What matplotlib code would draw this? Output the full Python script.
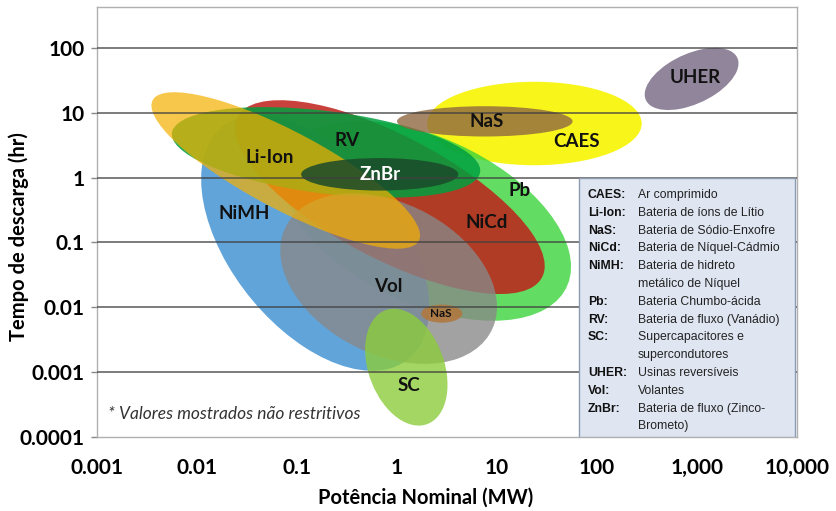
import numpy as np
import matplotlib
matplotlib.use('Agg')
import matplotlib.pyplot as plt
from matplotlib.patches import Ellipse, Rectangle
from matplotlib.transforms import ScaledTranslation

# technologies, drawn bottom -> top
techs = ['CAES', 'UHER', 'Pb', 'NiMH', 'NiCd', 'RV', 'Vol', 'Li-Ion', 'ZnBr', 'NaS', 'SC', 'NaS']
# rated power range (MW)
power_min = [2.0, 300, 0.07, 0.011, 0.024, 0.0056, 0.068, 0.0035, 0.11, 1.0, 0.48, 1.75]
power_max = [280, 2600, 55, 2.1, 30, 6.8, 10, 1.7, 4.1, 57, 3.2, 4.5]
# discharge time range (hr)
time_min = [1.55, 11, 0.0062, 0.00105, 0.016, 0.49, 0.00134, 0.08, 0.63, 4.3, 0.00015, 0.0058]
time_max = [30, 100, 7.5, 9.1, 15.6, 12.2, 0.57, 20.7, 2.0, 12.6, 0.0095, 0.011]
# tilt of each region (correlation between log power and log time)
tilt = [0.0, 0.5, -0.46, -0.5, -0.71, -0.4, -0.33, -0.83, 0.0, 0.0, -0.3, 0.0]

x_tick_labels = ['0.001', '0.01', '0.1', '1', '10', '100', '1,000', '10,000']
y_tick_labels = ['0.0001', '0.001', '0.01', '0.1', '1', '10', '100']

legend_abbr = ['CAES:', 'Li-Ion:', 'NaS:', 'NiCd:', 'NiMH:', 'Pb:', 'RV:', 'SC:', 'UHER:', 'Vol:', 'ZnBr:']
legend_desc = ['Ar comprimido', 'Bateria de íons de Lítio', 'Bateria de Sódio-Enxofre',
               'Bateria de Níquel-Cádmio', 'Bateria de hidreto\nmetálico de Níquel',
               'Bateria Chumbo-ácida', 'Bateria de fluxo (Vanádio)',
               'Supercapacitores e\nsupercondutores', 'Usinas reversíveis', 'Volantes',
               'Bateria de fluxo (Zinco-\nBrometo)']

# styles
face = ['#f7f400', '#8b7f96', '#3cd43c', '#4f9ad6', '#c0201a', '#00a040', '#888888',
        '#f5b000', '#1a4a2a', '#8f6840', '#8ccc3c', '#b07840']
alpha = [0.9, 0.95, 0.8, 0.9, 0.85, 0.85, 0.78, 0.7, 0.85, 0.8, 0.8, 0.9]
label_x = [1.80, 2.98, 1.23, -1.53, 0.90, -0.50, -0.09, -1.27, -0.17, 0.90, 0.12, 0.44]
label_y = [0.56, 1.55, -0.20, -0.55, -0.69, 0.575, -1.68, 0.31, 0.05, 0.87, -3.21, -2.10]
label_size = [13.5] * 11 + [8.5]
label_color = ['#111111'] * 8 + ['white'] + ['#111111'] * 3

main_font = ['Lato', 'DejaVu Sans']
legend_font = ['Liberation Sans', 'DejaVu Sans']

fig = plt.figure(figsize=(8.37, 5.11), dpi=100)
ax = fig.add_axes([97 / 837, 1 - 437 / 511, 700 / 837, 430 / 511])
ax.set_xlim(-3, 4)
ax.set_ylim(-4, 2.63)

for i in range(len(techs)):
    lx0, lx1 = np.log10(power_min[i]), np.log10(power_max[i])
    ly0, ly1 = np.log10(time_min[i]), np.log10(time_max[i])
    cx, cy = (lx0 + lx1) / 2, (ly0 + ly1) / 2
    w, h = (lx1 - lx0) / 2, (ly1 - ly0) / 2
    cov = np.array([[w * w, tilt[i] * w * h], [tilt[i] * w * h, h * h]])
    vals, vecs = np.linalg.eigh(cov)
    ang = np.degrees(np.arctan2(vecs[1, 1], vecs[0, 1]))
    e = Ellipse((cx, cy), 2 * np.sqrt(vals[1]), 2 * np.sqrt(vals[0]), angle=ang,
                facecolor=face[i], alpha=alpha[i], linewidth=0, zorder=2 + i * 0.01)
    ax.add_patch(e)
    ax.text(label_x[i], label_y[i], techs[i], ha='center', va='center',
            fontsize=label_size[i], fontweight='bold', color=label_color[i],
            family=main_font, zorder=5)

# horizontal grid lines
for yv in range(-3, 3):
    ax.axhline(yv, color='#404040', lw=1.2, alpha=0.8, zorder=3)

ax.set_xticks(range(-3, 5))
ax.set_xticklabels(x_tick_labels)
ax.set_yticks(range(-4, 3))
ax.set_yticklabels(y_tick_labels)
shift = ScaledTranslation(0.08, 0, fig.dpi_scale_trans)
for lab in ax.get_xticklabels():
    lab.set_transform(lab.get_transform() + shift)
for lab in ax.get_xticklabels() + ax.get_yticklabels():
    lab.set_family(main_font)
    lab.set_fontweight('bold')
    lab.set_fontsize(15)
ax.tick_params(axis='x', length=0, pad=15)
ax.tick_params(axis='y', length=4, width=1, color='#888888', pad=5)
for sp in ax.spines.values():
    sp.set_color('#b0b0b0')
    sp.set_linewidth(1)

ax.set_xlabel('Potência Nominal (MW)', family=main_font, fontweight='bold', fontsize=14.5)
ax.set_ylabel('Tempo de descarga (hr)', family=main_font, fontweight='bold', fontsize=14.5)
ax.xaxis.set_label_coords(0.469, -0.118)
ax.yaxis.set_label_coords(-0.097, 0.467)

ax.text(0.016, 0.054, '* Valores mostrados não restritivos', transform=ax.transAxes,
        ha='left', va='center', fontsize=12.5, style='italic', color='#333333',
        family=main_font, zorder=5)

# legend box
bx0, bx1 = (579 - 97) / 700, (795 - 97) / 700
by1 = (437 - 178) / 430
ax.add_patch(Rectangle((bx0, 0), bx1 - bx0, by1, transform=ax.transAxes,
                       facecolor='#dfe6f1', edgecolor='#8c9bb0', lw=1, zorder=6))
line_h = 17.8 / 430
row = 0
for abbr, desc in zip(legend_abbr, legend_desc):
    yy = (437 - 195) / 430 - row * line_h
    ax.text((588 - 97) / 700, yy, abbr, transform=ax.transAxes, ha='left', va='center',
            fontsize=8.8, fontweight='bold', family=legend_font, color='#111111', zorder=7)
    for part in desc.split('\n'):
        yy = (437 - 195) / 430 - row * line_h
        ax.text((638 - 97) / 700, yy, part, transform=ax.transAxes, ha='left', va='center',
                fontsize=8.8, family=legend_font, color='#222222', zorder=7)
        row += 1

fig.savefig('out.png', dpi=100)
